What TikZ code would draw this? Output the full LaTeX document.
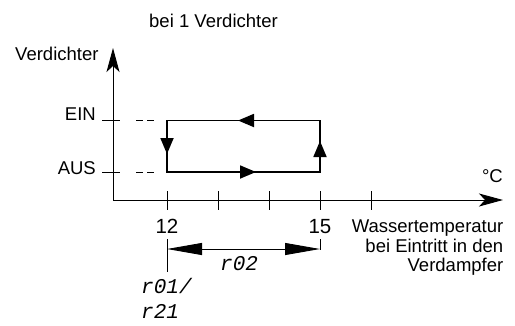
\documentclass[tikz,border=0pt]{standalone}
\usepackage{fontspec}
\setmainfont{Liberation Sans}
\newfontfamily\lcdfont{Liberation Mono}
\usetikzlibrary{arrows.meta}
\tikzset{
  lbl/.style={inner sep=0pt, font=\fontsize{18.5}{19.5}\selectfont},
  num/.style={inner sep=0pt, font=\fontsize{20.5}{21}\selectfont},
  lcd/.style={inner sep=0pt, font=\fontsize{21}{22}\selectfont\lcdfont\itshape},
  axis/.style={line width=0.9pt, -{Stealth[length=24pt,width=13pt,inset=6pt]}},
  thin/.style={line width=0.9pt},
  loop/.style={line width=1.8pt},
  flow/.style={line width=1.8pt, -{Triangle[length=16pt,width=13pt]}},
  dim/.style={line width=0.9pt, {Triangle[length=35pt,width=12pt]}-{Triangle[length=35pt,width=12pt]}},
  lvl/.style={line width=0.9pt, dash pattern=on 7pt off 4pt}
}
\begin{document}
\begin{tikzpicture}[x=1pt,y=-1pt]
\useasboundingbox (0,0) rectangle (515,325);
% axes
\coordinate (O) at (113,200);
\coordinate (Ytip) at (113,48);
\coordinate (Xtip) at (503,200);
\draw[axis] (O) -- (Ytip);
\draw[axis] (O) -- (Xtip);
% ticks x
\foreach \x/\n in {167/t1,218/t2,269/t3,320/t4,371/t5}{
  \coordinate (\n a) at (\x,191);
  \coordinate (\n b) at (\x,210);
  \draw[thin] (\n a) -- (\n b);
}
% y ticks
\coordinate (EINa) at (102,120.5); \coordinate (EINb) at (120,120.5);
\coordinate (AUSa) at (102,172);   \coordinate (AUSb) at (120,172);
\draw[thin] (EINa) -- (EINb);
\draw[thin] (AUSa) -- (AUSb);
\coordinate (EINd1) at (136,120.5); \coordinate (EINd2) at (154,120.5);
\coordinate (AUSd1) at (136,172);   \coordinate (AUSd2) at (154,172);
\draw[lvl] (EINd1) -- (EINd2);
\draw[lvl] (AUSd1) -- (AUSd2);
% hysteresis loop
\coordinate (TL) at (167,120.5);
\coordinate (TR) at (320,120.5);
\coordinate (BL) at (167,172);
\coordinate (BR) at (320,172);
\draw[loop] (TL) -- (TR) -- (BR) -- (BL) -- cycle;
\coordinate (aTop) at (238,120.5);
\coordinate (aBot) at (256,172);
\coordinate (aLeft) at (167,154);
\coordinate (aRight) at (320,141);
\draw[flow] (TR) -- (aTop);
\draw[flow] (BL) -- (aBot);
\draw[flow] (TL) -- (aLeft);
\draw[flow] (BR) -- (aRight);
% labels
\node[lbl, anchor=base west] (title) at (149,27) {bei 1 Verdichter};
\node[lbl, anchor=base west] (ylab) at (15,60) {Verdichter};
\node[lbl, anchor=base east] (ein) at (96,120) {EIN};
\node[lbl, anchor=base east] (aus) at (96,174) {AUS};
\node[lbl, anchor=base east] (degc) at (503,182) {°C};
\node[num, anchor=base] (n12) at (167,233) {12};
\node[num, anchor=base] (n15) at (320,233) {15};
\node[lbl, anchor=north east, align=right] (xlab) at (503.5,220) {Wassertemperatur\\bei Eintritt in den\\Verdampfer};
% dimension
\coordinate (d1a) at (167,239); \coordinate (d1b) at (167,272);
\coordinate (d2a) at (320,239); \coordinate (d2b) at (320,250);
\draw[thin] (d1a) -- (d1b);
\draw[thin] (d2a) -- (d2b);
\coordinate (dl) at (167,249); \coordinate (dr) at (320,249);
\draw[dim] (dl) -- (dr);
\node[lcd, anchor=base west] (r02) at (220,270) {r02};
\node[lcd, anchor=base west] (r01) at (141,293) {r01/};
\node[lcd, anchor=base west] (r21) at (141,318) {r21};
\end{tikzpicture}
\end{document}
